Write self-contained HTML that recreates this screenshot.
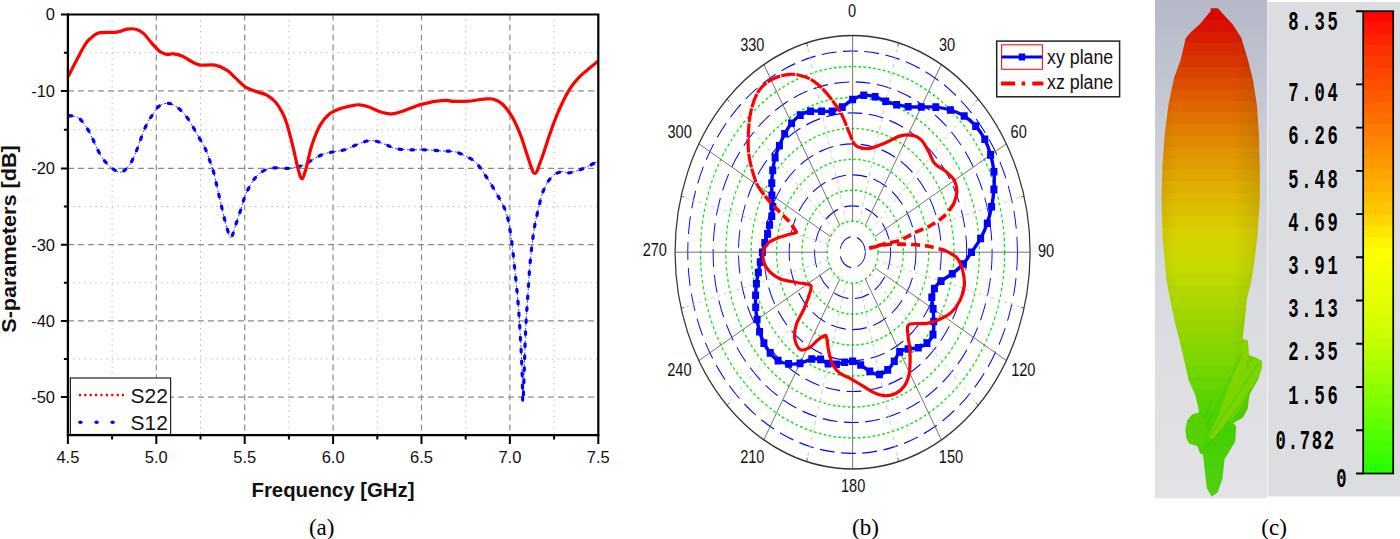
<!DOCTYPE html>
<html><head><meta charset="utf-8"><title>Figure</title><style>
html,body{margin:0;padding:0;background:#fff;}
body{width:1400px;height:539px;overflow:hidden;}
svg{display:block;}
.mn{stroke:#b4b4b4;stroke-width:1;stroke-dasharray:1.3 4.2;}
.mj{stroke:#8a8a8a;stroke-width:1.2;stroke-dasharray:6 4;}
text{font-family:"Liberation Sans",sans-serif;fill:#111;}
.tl{font-size:16.5px;}
.al{font-size:20.4px;font-weight:bold;}
.lg{font-size:21px;}
.cap{font-family:"Liberation Serif",serif;font-size:23px;fill:#000;}
.rb{fill:none;stroke:#0000ff;stroke-width:1.15;stroke-dasharray:18 8;}
.rg{fill:none;stroke:#00e600;stroke-width:1.5;stroke-dasharray:3 3;}
.r30{stroke:#666;stroke-width:1;}
.r10{stroke:#c4c4c4;stroke-width:1;stroke-dasharray:4 4;}
.pl{font-size:18px;}
.pg{font-size:20px;}
.cb{font-family:"Liberation Mono",monospace;font-weight:bold;font-size:20px;fill:#000;}
</style></head><body>
<svg width="1400" height="539" viewBox="0 0 1400 539">
<rect width="1400" height="539" fill="#fff"/>
<line x1="112.1" y1="14.5" x2="112.1" y2="435.1" class="mn"/>
<line x1="200.5" y1="14.5" x2="200.5" y2="435.1" class="mn"/>
<line x1="288.9" y1="14.5" x2="288.9" y2="435.1" class="mn"/>
<line x1="377.3" y1="14.5" x2="377.3" y2="435.1" class="mn"/>
<line x1="465.7" y1="14.5" x2="465.7" y2="435.1" class="mn"/>
<line x1="554.1" y1="14.5" x2="554.1" y2="435.1" class="mn"/>
<line x1="67.9" y1="52.7" x2="598.3" y2="52.7" class="mn"/>
<line x1="67.9" y1="129.7" x2="598.3" y2="129.7" class="mn"/>
<line x1="67.9" y1="206.6" x2="598.3" y2="206.6" class="mn"/>
<line x1="67.9" y1="282.8" x2="598.3" y2="282.8" class="mn"/>
<line x1="67.9" y1="359" x2="598.3" y2="359" class="mn"/>
<line x1="156.3" y1="14.5" x2="156.3" y2="435.1" class="mj"/>
<line x1="244.7" y1="14.5" x2="244.7" y2="435.1" class="mj"/>
<line x1="333.1" y1="14.5" x2="333.1" y2="435.1" class="mj"/>
<line x1="421.5" y1="14.5" x2="421.5" y2="435.1" class="mj"/>
<line x1="509.9" y1="14.5" x2="509.9" y2="435.1" class="mj"/>
<line x1="67.9" y1="90.9" x2="598.3" y2="90.9" class="mj"/>
<line x1="67.9" y1="168.4" x2="598.3" y2="168.4" class="mj"/>
<line x1="67.9" y1="244.7" x2="598.3" y2="244.7" class="mj"/>
<line x1="67.9" y1="320.9" x2="598.3" y2="320.9" class="mj"/>
<line x1="67.9" y1="397.1" x2="598.3" y2="397.1" class="mj"/>
<path d="M69.2 115.6C70.8 116 75.7 115.9 78.5 117.8C81.3 119.7 83.9 123.7 86 126.7C88.1 129.7 89.6 132.5 91.2 135.6C92.8 138.7 93.8 141.6 95.6 145.3C97.4 149 99.7 154.2 102.3 157.9C104.9 161.6 108.1 165.1 111.2 167.5C114.3 169.9 117.9 172.7 121 172.2C124.1 171.7 127.2 167.8 129.7 164.5C132.1 161.2 134 156.6 135.7 152.7C137.4 148.8 138.5 145 140.1 140.8C141.7 136.6 143.6 131.2 145.3 127.4C147 123.6 148.2 121.3 150.5 117.8C152.8 114.3 155.8 108.7 158.9 106.3C162 103.9 165.8 102.9 169.3 103.4C172.8 103.9 176.5 106.6 179.7 109.3C182.9 112 185.4 115 188.6 119.7C191.8 124.4 196.3 132.8 199 137.5C201.7 142.2 203.3 144.2 205 147.9C206.7 151.6 207.9 155.6 209.4 159.8C210.9 164 212.4 167.8 213.9 173.2C215.4 178.6 216.8 186.1 218.3 192.5C219.8 198.9 221.4 206 222.8 211.8C224.2 217.6 225.4 223.2 226.8 227.5C228.2 231.8 229.4 238.2 231 237.6C232.6 236.9 234.5 228.1 236.1 223.6C237.7 219.1 238.9 215.5 240.6 210.3C242.3 205.1 244 197.9 246.5 192.5C249 187.1 252.2 181.4 255.4 177.6C258.6 173.8 262.2 171.2 265.8 169.6C269.4 168 273.2 168 277 167.8C280.8 167.6 284.2 168.8 288.6 168.3C293 167.9 299.4 166.6 303.4 165.1C307.4 163.6 309.3 161.4 312.7 159.6C316.1 157.8 320.1 155.3 323.8 154C327.5 152.7 331.2 152.4 334.9 151.6C338.6 150.8 342.1 150.7 346.1 149.4C350.1 148.1 354.7 145.3 359 143.8C363.3 142.3 367.4 140.4 371.7 140.5C376 140.6 381.1 143 385 144.3C388.9 145.6 391.1 147.6 395 148.5C398.9 149.4 403.4 149.6 408.4 149.8C413.4 150 419.6 149.6 425.2 149.8C430.8 150 436.9 150.7 441.9 151C446.9 151.3 451 150.8 455.2 151.8C459.4 152.8 463.4 155 466.9 156.8C470.4 158.6 473.2 159.8 476.1 162.7C479 165.6 481.1 169 484.5 174.1C487.9 179.2 492.9 187 496.5 193.4C500.1 199.8 503.8 205.5 506.2 212.7C508.6 219.9 509.6 227.2 511 236.8C512.5 246.5 513.7 259.3 514.9 270.6C516.1 281.9 517.2 292.3 518.2 304.4C519.2 316.5 520.1 331.8 520.7 343C521.4 354.2 521.7 362.3 522.1 371.9C522.5 381.5 522.5 407.2 523.1 400.8C523.7 394.4 524.7 351 525.5 333.3C526.3 315.6 527.1 306.8 527.9 294.7C528.7 282.6 529.3 271.4 530.3 261C531.3 250.6 532.5 240.1 533.7 232C534.9 223.9 535.9 219.5 537.5 212.7C539.1 205.9 540.9 197 543.3 191C545.7 185 548.9 179.7 552 176.5C555.1 173.3 558.9 172.3 561.7 171.7C564.6 171.1 565.6 173.3 569.1 172.8C572.6 172.3 578.1 170.6 583 168.6C587.9 166.6 595.8 162.3 598.3 161.1" fill="none" stroke="#0000ff" stroke-width="1" stroke-dasharray="2 2" opacity="0.8"/>
<path d="M69.2 115.6C70.8 116 75.7 115.9 78.5 117.8C81.3 119.7 83.9 123.7 86 126.7C88.1 129.7 89.6 132.5 91.2 135.6C92.8 138.7 93.8 141.6 95.6 145.3C97.4 149 99.7 154.2 102.3 157.9C104.9 161.6 108.1 165.1 111.2 167.5C114.3 169.9 117.9 172.7 121 172.2C124.1 171.7 127.2 167.8 129.7 164.5C132.1 161.2 134 156.6 135.7 152.7C137.4 148.8 138.5 145 140.1 140.8C141.7 136.6 143.6 131.2 145.3 127.4C147 123.6 148.2 121.3 150.5 117.8C152.8 114.3 155.8 108.7 158.9 106.3C162 103.9 165.8 102.9 169.3 103.4C172.8 103.9 176.5 106.6 179.7 109.3C182.9 112 185.4 115 188.6 119.7C191.8 124.4 196.3 132.8 199 137.5C201.7 142.2 203.3 144.2 205 147.9C206.7 151.6 207.9 155.6 209.4 159.8C210.9 164 212.4 167.8 213.9 173.2C215.4 178.6 216.8 186.1 218.3 192.5C219.8 198.9 221.4 206 222.8 211.8C224.2 217.6 225.4 223.2 226.8 227.5C228.2 231.8 229.4 238.2 231 237.6C232.6 236.9 234.5 228.1 236.1 223.6C237.7 219.1 238.9 215.5 240.6 210.3C242.3 205.1 244 197.9 246.5 192.5C249 187.1 252.2 181.4 255.4 177.6C258.6 173.8 262.2 171.2 265.8 169.6C269.4 168 273.2 168 277 167.8C280.8 167.6 284.2 168.8 288.6 168.3C293 167.9 299.4 166.6 303.4 165.1C307.4 163.6 309.3 161.4 312.7 159.6C316.1 157.8 320.1 155.3 323.8 154C327.5 152.7 331.2 152.4 334.9 151.6C338.6 150.8 342.1 150.7 346.1 149.4C350.1 148.1 354.7 145.3 359 143.8C363.3 142.3 367.4 140.4 371.7 140.5C376 140.6 381.1 143 385 144.3C388.9 145.6 391.1 147.6 395 148.5C398.9 149.4 403.4 149.6 408.4 149.8C413.4 150 419.6 149.6 425.2 149.8C430.8 150 436.9 150.7 441.9 151C446.9 151.3 451 150.8 455.2 151.8C459.4 152.8 463.4 155 466.9 156.8C470.4 158.6 473.2 159.8 476.1 162.7C479 165.6 481.1 169 484.5 174.1C487.9 179.2 492.9 187 496.5 193.4C500.1 199.8 503.8 205.5 506.2 212.7C508.6 219.9 509.6 227.2 511 236.8C512.5 246.5 513.7 259.3 514.9 270.6C516.1 281.9 517.2 292.3 518.2 304.4C519.2 316.5 520.1 331.8 520.7 343C521.4 354.2 521.7 362.3 522.1 371.9C522.5 381.5 522.5 407.2 523.1 400.8C523.7 394.4 524.7 351 525.5 333.3C526.3 315.6 527.1 306.8 527.9 294.7C528.7 282.6 529.3 271.4 530.3 261C531.3 250.6 532.5 240.1 533.7 232C534.9 223.9 535.9 219.5 537.5 212.7C539.1 205.9 540.9 197 543.3 191C545.7 185 548.9 179.7 552 176.5C555.1 173.3 558.9 172.3 561.7 171.7C564.6 171.1 565.6 173.3 569.1 172.8C572.6 172.3 578.1 170.6 583 168.6C587.9 166.6 595.8 162.3 598.3 161.1" fill="none" stroke="#0000ff" stroke-width="3.2" stroke-linecap="round" stroke-dasharray="2.6 9.4"/>
<path d="M68 76.8C69.5 74 73.7 65.7 76.7 60.1C79.7 54.5 83.1 47.4 85.9 43.4C88.7 39.4 91 37.7 93.4 35.9C95.8 34.1 96.2 33.2 100.1 32.6C104 32 112.3 32.7 116.8 32.1C121.2 31.5 123.6 29.7 126.8 29.2C130 28.7 133.2 28.5 136 29.2C138.8 29.9 140.8 31 143.5 33.4C146.2 35.8 149.1 40.3 151.9 43.4C154.7 46.5 157.7 50 160.2 51.8C162.7 53.6 164.7 54 166.9 54.3C169.1 54.6 171.1 53.5 173.6 53.8C176.1 54.1 178.9 54.6 182 55.9C185.1 57.2 189 60.3 192 61.8C195 63.3 196.2 64.5 200 65.1C203.8 65.6 210.6 64.3 215.1 65.1C219.6 65.9 223.5 68 226.8 70.1C230.1 72.2 232.1 74.8 235.1 77.6C238.1 80.4 241.5 84.4 245.1 86.8C248.7 89.2 253.2 90.4 256.8 91.8C260.4 93.2 263.7 93.4 266.8 95.1C269.9 96.8 272.7 99 275.2 101.8C277.7 104.6 280 108.2 281.9 111.8C283.8 115.4 285 118.1 286.7 123.4C288.4 128.7 290.4 136.4 292.3 143.8C294.2 151.2 296.2 162.1 297.8 167.9C299.4 173.7 300.5 178.7 301.9 178.7C303.3 178.7 304.6 173.4 306.2 167.9C307.8 162.4 309.4 152.8 311.7 145.7C314 138.6 317.2 130.6 320.1 125.3C323.1 120 326 116.9 329.4 114.1C332.8 111.3 336.8 110 340.5 108.6C344.2 107.2 348.5 106.4 351.6 105.8C354.7 105.2 356.2 104.6 359 104.8C361.8 105 364.9 105.5 368.4 106.7C371.9 107.9 376.1 110.5 380 111.7C383.9 112.9 387.8 114 391.7 113.9C395.6 113.8 399.5 112.2 403.4 110.9C407.3 109.7 411.8 107.6 415.1 106.4C418.5 105.2 420.1 104.7 423.5 103.9C426.9 103.1 431.3 102 435.2 101.4C439.1 100.8 443.8 100.4 446.9 100.4C450 100.4 450 101.3 453.6 101.4C457.2 101.5 464.7 101.4 468.6 101.2C472.5 101 473.9 100.4 477 100C480.1 99.6 484.2 99 487 98.9C489.8 98.8 491.1 98.4 493.6 99.2C496.2 100 499.2 101.1 502.3 104C505.4 106.9 509 111.5 512 116.6C515 121.7 517.6 127.5 520.4 134.7C523.2 141.9 526.3 153.2 528.7 159.7C531.1 166.2 532.7 173.6 534.8 173.6C536.9 173.6 538.7 166.2 541.2 159.7C543.7 153.2 546.8 142.6 549.6 134.7C552.4 126.8 554.8 119.8 558 112.4C561.2 105 565.4 96.1 569.1 90.1C572.8 84.1 576.7 79.9 580.2 76.2C583.7 72.5 587 70.3 590 67.8C593 65.2 596.9 62 598.3 60.9" fill="none" stroke="#ff0000" stroke-width="3.2" stroke-linejoin="round"/>
<rect x="70.4" y="378" width="100.2" height="56.5" fill="#fff" stroke="#222" stroke-width="1.2"/>
<line x1="78.8" y1="395" x2="124" y2="395" stroke="#ff0000" stroke-width="2.4" stroke-dasharray="2.2 3.2"/>
<ellipse cx="80.4" cy="422.2" rx="2.2" ry="1.8" fill="#0000ff"/>
<ellipse cx="96.6" cy="422.2" rx="2.2" ry="1.8" fill="#0000ff"/>
<ellipse cx="112.6" cy="422.2" rx="2.2" ry="1.8" fill="#0000ff"/>
<text x="130.6" y="402.5" class="lg">S22</text>
<text x="130.6" y="429.7" class="lg">S12</text>
<path d="M67.9 14.5 H598.3 V435.1" fill="none" stroke="#000" stroke-width="2.2"/>
<path d="M67.9 13.4 V435.1 H599.4" fill="none" stroke="#000" stroke-width="2.3"/>
<path d="M60.9 14.5H67.9M60.9 90.9H67.9M60.9 168.4H67.9M60.9 244.7H67.9M60.9 320.9H67.9M60.9 397.1H67.9M63.9 52.7H67.9M63.9 129.7H67.9M63.9 206.6H67.9M63.9 282.8H67.9M63.9 359H67.9M67.9 435.1V444.1M156.3 435.1V444.1M244.7 435.1V444.1M333.1 435.1V444.1M421.5 435.1V444.1M509.9 435.1V444.1M598.3 435.1V444.1M112.1 435.1V439.6M200.5 435.1V439.6M288.9 435.1V439.6M377.3 435.1V439.6M465.7 435.1V439.6M554.1 435.1V439.6" stroke="#000" stroke-width="2"/>
<text x="55" y="20.4" class="tl" text-anchor="end">0</text>
<text x="55" y="96.8" class="tl" text-anchor="end">-10</text>
<text x="55" y="174.3" class="tl" text-anchor="end">-20</text>
<text x="55" y="250.6" class="tl" text-anchor="end">-30</text>
<text x="55" y="326.8" class="tl" text-anchor="end">-40</text>
<text x="55" y="402.9" class="tl" text-anchor="end">-50</text>
<text x="67.9" y="462.5" class="tl" text-anchor="middle">4.5</text>
<text x="156.3" y="462.5" class="tl" text-anchor="middle">5.0</text>
<text x="244.7" y="462.5" class="tl" text-anchor="middle">5.5</text>
<text x="333.1" y="462.5" class="tl" text-anchor="middle">6.0</text>
<text x="421.5" y="462.5" class="tl" text-anchor="middle">6.5</text>
<text x="509.9" y="462.5" class="tl" text-anchor="middle">7.0</text>
<text x="598.3" y="462.5" class="tl" text-anchor="middle">7.5</text>
<text x="333" y="497.4" class="al" text-anchor="middle">Frequency [GHz]</text>
<text transform="translate(16.3 239) rotate(-90) scale(1.083 1)" class="al" style="font-size:20px" text-anchor="middle">S-parameters [dB]</text>
<text x="321.7" y="534.6" class="cap" text-anchor="middle">(a)</text>
<g transform="translate(852.6 252.2) scale(0.8191 1)"><circle r="15.5" class="rb"/><circle r="31" class="rg"/><circle r="46.4" class="rb"/><circle r="61.9" class="rg"/><circle r="77.4" class="rb"/><circle r="92.9" class="rg"/><circle r="108.3" class="rb"/><circle r="123.8" class="rg"/><circle r="139.3" class="rb"/><circle r="154.8" class="rg"/><circle r="170.3" class="rb"/><circle r="185.7" class="rg"/><circle r="201.2" class="rb"/><line x1="0" y1="-31" x2="0" y2="-216.7" class="r30"/><line x1="8" y1="-29.9" x2="56.1" y2="-209.3" class="r10"/><line x1="55.1" y1="-205.5" x2="56.1" y2="-209.3" class="r30"/><line x1="15.5" y1="-26.8" x2="108.3" y2="-187.7" class="r30"/><line x1="21.9" y1="-21.9" x2="153.2" y2="-153.2" class="r10"/><line x1="150.4" y1="-150.4" x2="153.2" y2="-153.2" class="r30"/><line x1="26.8" y1="-15.5" x2="187.7" y2="-108.4" class="r30"/><line x1="29.9" y1="-8" x2="209.3" y2="-56.1" class="r10"/><line x1="205.5" y1="-55.1" x2="209.3" y2="-56.1" class="r30"/><line x1="31" y1="-0" x2="216.7" y2="-0" class="r30"/><line x1="29.9" y1="8" x2="209.3" y2="56.1" class="r10"/><line x1="205.5" y1="55.1" x2="209.3" y2="56.1" class="r30"/><line x1="26.8" y1="15.5" x2="187.7" y2="108.3" class="r30"/><line x1="21.9" y1="21.9" x2="153.2" y2="153.2" class="r10"/><line x1="150.4" y1="150.4" x2="153.2" y2="153.2" class="r30"/><line x1="15.5" y1="26.8" x2="108.3" y2="187.7" class="r30"/><line x1="8" y1="29.9" x2="56.1" y2="209.3" class="r10"/><line x1="55.1" y1="205.5" x2="56.1" y2="209.3" class="r30"/><line x1="0" y1="31" x2="0" y2="216.7" class="r30"/><line x1="-8" y1="29.9" x2="-56.1" y2="209.3" class="r10"/><line x1="-55.1" y1="205.5" x2="-56.1" y2="209.3" class="r30"/><line x1="-15.5" y1="26.8" x2="-108.4" y2="187.7" class="r30"/><line x1="-21.9" y1="21.9" x2="-153.2" y2="153.2" class="r10"/><line x1="-150.4" y1="150.4" x2="-153.2" y2="153.2" class="r30"/><line x1="-26.8" y1="15.5" x2="-187.7" y2="108.4" class="r30"/><line x1="-29.9" y1="8" x2="-209.3" y2="56.1" class="r10"/><line x1="-205.5" y1="55.1" x2="-209.3" y2="56.1" class="r30"/><line x1="-31" y1="0" x2="-216.7" y2="0" class="r30"/><line x1="-29.9" y1="-8" x2="-209.3" y2="-56.1" class="r10"/><line x1="-205.5" y1="-55.1" x2="-209.3" y2="-56.1" class="r30"/><line x1="-26.8" y1="-15.5" x2="-187.7" y2="-108.4" class="r30"/><line x1="-21.9" y1="-21.9" x2="-153.2" y2="-153.2" class="r10"/><line x1="-150.4" y1="-150.4" x2="-153.2" y2="-153.2" class="r30"/><line x1="-15.5" y1="-26.8" x2="-108.4" y2="-187.7" class="r30"/><line x1="-8" y1="-29.9" x2="-56.1" y2="-209.3" class="r10"/><line x1="-55.1" y1="-205.5" x2="-56.1" y2="-209.3" class="r30"/><circle r="216.7" fill="none" stroke="#333" stroke-width="1.5"/></g>
<path d="M852.6 99.5C856.2 97.6 860.1 95.7 863.8 95.2C867.6 94.8 871.4 95.7 875.1 96.7C878.7 97.7 882.1 99.9 885.7 101.2C889.3 102.6 892.9 103.7 896.6 104.7C900.3 105.6 904 106.4 908.1 106.8C912.2 107.2 916.6 107 921.3 107C925.9 107.1 931 106.6 935.8 107.1C940.7 107.6 945.6 108.5 950.4 110C955.1 111.4 960 113.3 964.2 116C968.4 118.6 972.3 122.2 975.7 126.1C979.2 129.9 982.3 134.4 984.8 139.2C987.2 144 989.1 149.5 990.6 154.9C992.1 160.3 993.4 166 993.9 171.8C994.5 177.5 994.3 183.6 993.9 189.4C993.6 195.2 992.7 201.1 991.6 206.7C990.5 212.4 989.1 217.9 987.3 223.2C985.4 228.5 983.3 233.7 980.6 238.5C978 243.4 974.4 248 971.5 252.2C968.6 256.4 966.4 260.4 963.2 264C960 267.6 956 270.8 952.3 273.7C948.6 276.5 944.1 278.7 941.1 281.1C938.1 283.6 935.9 285.8 934.4 288.5C932.8 291.2 932 293.9 931.8 297.3C931.6 300.7 932.8 304.9 933.1 308.9C933.4 313 933.7 317.2 933.7 321.5C933.7 325.8 934.1 331 933 334.6C931.9 338.2 929.5 340.9 927 343.1C924.6 345.3 921.4 346.8 918.3 347.7C915.1 348.7 911.2 348.3 908.1 349C905 349.6 902 349.8 899.7 351.9C897.4 353.9 896.3 358.3 894.3 361.3C892.3 364.3 890.2 367.7 887.7 369.9C885.2 372.1 882.4 374.2 879.4 374.5C876.5 374.7 872.9 373 869.8 371.4C866.7 369.8 863.6 366.7 860.7 365C857.8 363.3 855.3 361.8 852.6 361.3C849.9 360.9 847.4 361.8 844.7 362.3C842 362.8 839.2 364.1 836.4 364.3C833.6 364.6 830.8 364.5 828.1 363.6C825.5 362.8 823.4 360.2 820.6 359.4C817.9 358.7 815.2 358.4 811.8 359C808.4 359.7 803.9 362.6 800 363.4C796.1 364.2 792.2 364.3 788.6 363.9C784.9 363.4 781.2 362.4 778.1 360.6C775 358.8 772.5 355.8 770.2 352.9C767.8 349.9 765.7 346.6 763.9 343.1C762.1 339.5 760.7 335.6 759.6 331.7C758.4 327.8 757.7 323.6 757.1 319.5C756.5 315.5 756 311.4 755.7 307.3C755.5 303.3 755.5 299.3 755.6 295.3C755.7 291.4 756 287.5 756.4 283.7C756.9 279.9 757.7 276.1 758.3 272.5C758.9 268.9 759.6 265.4 760.3 262.1C761 258.7 761.7 255.4 762.4 252.2C763.2 249 763.9 245.9 764.8 242.8C765.6 239.8 766.8 236.9 767.6 233.9C768.4 230.9 768.9 228 769.6 225C770.3 222.1 771.3 219.4 771.8 216.3C772.4 213.3 772.8 210.3 772.8 206.8C772.8 203.3 772.1 199.3 771.9 195.3C771.7 191.4 771.7 187.3 771.8 183.1C771.9 179 772.2 174.6 772.7 170.4C773.3 166.1 774 161.7 775.1 157.6C776.2 153.5 777.8 149.7 779.4 145.7C781 141.7 782.6 137.5 784.7 133.7C786.7 130 789 126.4 791.6 123.2C794.2 120.1 797.1 117.1 800.2 115.1C803.4 113 807 111.8 810.6 111.2C814.1 110.5 818 111.2 821.6 111.2C825.3 111.2 828.8 111.9 832.2 111.2C835.7 110.5 838.8 109 842.2 107.1C845.6 105.2 849 101.5 852.6 99.5Z" fill="none" stroke="#0000ff" stroke-width="3.4" stroke-linejoin="round"/>
<path d="M849.1 95.7h7v7.6h-7zM860.3 91.4h7v7.6h-7zM871.6 92.9h7v7.6h-7zM882.2 97.4h7v7.6h-7zM893.1 100.9h7v7.6h-7zM904.6 103h7v7.6h-7zM917.8 103.2h7v7.6h-7zM932.3 103.3h7v7.6h-7zM946.9 106.2h7v7.6h-7zM960.7 112.2h7v7.6h-7zM972.2 122.3h7v7.6h-7zM981.3 135.4h7v7.6h-7zM987.1 151.1h7v7.6h-7zM990.4 168h7v7.6h-7zM990.4 185.6h7v7.6h-7zM988.1 202.9h7v7.6h-7zM983.8 219.4h7v7.6h-7zM977.1 234.7h7v7.6h-7zM968 248.4h7v7.6h-7zM959.7 260.2h7v7.6h-7zM948.8 269.9h7v7.6h-7zM937.6 277.3h7v7.6h-7zM930.9 284.7h7v7.6h-7zM928.3 293.5h7v7.6h-7zM929.6 305.1h7v7.6h-7zM930.2 317.7h7v7.6h-7zM929.5 330.8h7v7.6h-7zM923.5 339.3h7v7.6h-7zM914.8 343.9h7v7.6h-7zM904.6 345.2h7v7.6h-7zM896.2 348.1h7v7.6h-7zM890.8 357.5h7v7.6h-7zM884.2 366.1h7v7.6h-7zM875.9 370.7h7v7.6h-7zM866.3 367.6h7v7.6h-7zM857.2 361.2h7v7.6h-7zM849.1 357.5h7v7.6h-7zM841.2 358.5h7v7.6h-7zM832.9 360.5h7v7.6h-7zM824.6 359.8h7v7.6h-7zM817.1 355.6h7v7.6h-7zM808.3 355.2h7v7.6h-7zM796.5 359.6h7v7.6h-7zM785.1 360.1h7v7.6h-7zM774.6 356.8h7v7.6h-7zM766.7 349.1h7v7.6h-7zM760.4 339.3h7v7.6h-7zM756.1 327.9h7v7.6h-7zM753.6 315.7h7v7.6h-7zM752.2 303.5h7v7.6h-7zM752.1 291.5h7v7.6h-7zM752.9 279.9h7v7.6h-7zM754.8 268.7h7v7.6h-7zM756.8 258.3h7v7.6h-7zM758.9 248.4h7v7.6h-7zM761.3 239h7v7.6h-7zM764.1 230.1h7v7.6h-7zM766.1 221.2h7v7.6h-7zM768.3 212.5h7v7.6h-7zM769.3 203h7v7.6h-7zM768.4 191.5h7v7.6h-7zM768.3 179.3h7v7.6h-7zM769.2 166.6h7v7.6h-7zM771.6 153.8h7v7.6h-7zM775.9 141.9h7v7.6h-7zM781.2 129.9h7v7.6h-7zM788.1 119.4h7v7.6h-7zM796.7 111.3h7v7.6h-7zM807.1 107.4h7v7.6h-7zM818.1 107.4h7v7.6h-7zM828.7 107.4h7v7.6h-7zM838.7 103.3h7v7.6h-7z" fill="#0000ff"/>
<path d="M862.5 148.3C863.9 148.3 866.9 149 870.8 148.1C874.6 147.2 880.6 144.7 885.6 142.7C890.6 140.7 896 137.1 900.5 135.9C905 134.7 908.8 134.7 912.3 135.3C915.8 136 918.5 137.1 921.2 139.8C923.9 142.5 926.5 147.7 928.7 151.6C930.9 155.5 931.9 160.3 934.6 163.5C937.3 166.7 941.8 168.2 945 170.9C948.2 173.6 951.9 176.3 953.9 179.8C955.9 183.3 956.9 187.7 956.9 191.7C956.9 195.7 954.4 201.6 953.9 203.6" fill="none" stroke="#ff0000" stroke-width="3.2" stroke-linejoin="round" stroke-linecap="round"/>
<path d="M953.9 203.6C952.4 205.6 949 211.7 945 215.4C941 219.1 935.1 223 930.1 225.8C925.1 228.7 919.9 230.1 915 232.5C910.1 234.9 905.9 238.1 900.5 240.1C895.1 242.1 887.9 243.2 882.7 244.5C877.5 245.8 871.5 247.5 869.3 248.1" fill="none" stroke="#ff0000" stroke-width="3.6" stroke-linejoin="round" stroke-linecap="butt" stroke-dasharray="9 4.5"/>
<path d="M869.3 248.1C872.5 247.5 881.9 245.1 888.6 244.5C895.3 243.9 903 244.2 909.4 244.5C915.8 244.8 921.3 245 927.2 246C933.1 247 942 249.8 945 250.5" fill="none" stroke="#ff0000" stroke-width="3.6" stroke-linejoin="round" stroke-linecap="butt" stroke-dasharray="9 5"/>
<path d="M945 250.5C947 251.7 953.9 254.4 956.9 257.9C959.9 261.3 961.6 266.5 962.8 271.2C964 275.9 964.8 281.2 964.3 286.1C963.8 291.1 962 296.4 959.8 300.9C957.6 305.3 954.5 309.6 950.9 312.8C947.3 316 942 318.2 938 320C934 321.8 931.6 322.6 926.8 323.4C922 324.1 912.1 322.6 909 324.5C905.9 326.4 907.8 330.6 907.9 334.5C908 338.4 909.3 343.4 909.7 347.9C910.1 352.3 910.2 356.8 910.1 361.2C910 365.6 909.9 370.5 909 374.6C908.1 378.7 906.8 382.6 904.6 385.7C902.4 388.8 899 391.8 895.7 393.5C892.4 395.2 888.3 395.9 884.6 395.7C880.9 395.5 877.1 394.1 873.4 392.4C869.7 390.7 866 387.9 862.3 385.7C858.6 383.5 854.9 381.1 851.2 379C847.5 376.9 843.1 375.6 840.1 373.4C837.1 371.2 835.3 369.2 833.4 365.7C831.5 362.2 830 356.9 828.9 352.3C827.8 347.7 827.4 340.6 826.7 337.8C826 335 826 335.2 824.5 335.6C823 336 820.4 338.1 817.8 340.1C815.2 342.2 811.9 346.3 808.9 347.9C805.9 349.5 802.4 351.1 800 349.5C797.6 347.9 795.3 342.5 794.7 338.3C794.1 334.1 795 328.8 796.5 324.1C798 319.4 801.5 314.7 803.5 310C805.5 305.3 807.6 300 808.8 295.9C810 291.8 812.6 287.5 810.6 285.3C808.6 283.1 801.8 283.7 796.5 282.5C791.2 281.3 783.8 280.7 778.8 278.2C773.8 275.7 769.1 271.8 766.5 267.7C763.9 263.6 762.7 257.6 763 253.5C763.3 249.4 765.6 245.7 768.2 243C770.8 240.3 774.1 239.4 778.8 237.6C783.5 235.8 793.5 233.3 796.5 232.4" fill="none" stroke="#ff0000" stroke-width="3.2" stroke-linejoin="round" stroke-linecap="round"/>
<path d="M796.5 232.4C795.3 230.6 792.9 225.9 789.4 221.8C785.9 217.7 779.5 212.1 775.3 207.6C771.1 203.1 765.9 197.1 764 195" fill="none" stroke="#ff0000" stroke-width="3.6" stroke-linejoin="round" stroke-linecap="butt" stroke-dasharray="9 4"/>
<path d="M764 195C762.7 192.8 758.4 188.2 756 182.1C753.6 176 750.8 166.1 749.5 158.7C748.2 151.3 748 145.7 748.2 137.9C748.4 130.1 749.1 119.7 750.8 111.9C752.5 104.1 755.1 96.6 758.6 91.2C762.1 85.8 766.4 82.3 771.6 79.5C776.8 76.7 784.1 74.7 789.7 74.3C795.3 73.9 800.5 75.2 805.3 76.9C810.1 78.6 814 81 818.3 84.7C822.6 88.4 827.4 94 831.3 99C835.2 104 838.9 109.3 841.7 114.5C844.5 119.7 846 125.1 848.2 130.1C850.4 135.1 852.3 141.4 854.7 144.4C857.1 147.4 861.2 147.7 862.5 148.3" fill="none" stroke="#ff0000" stroke-width="3.2" stroke-linejoin="round" stroke-linecap="butt" stroke-dasharray="14 1.2"/>
<text transform="translate(852 16.8) scale(0.81 1)" class="pl" text-anchor="middle">0</text>
<text transform="translate(947 51.4) scale(0.81 1)" class="pl" text-anchor="middle">30</text>
<text transform="translate(1018.7 138.1) scale(0.81 1)" class="pl" text-anchor="middle">60</text>
<text transform="translate(1046 256.7) scale(0.81 1)" class="pl" text-anchor="middle">90</text>
<text transform="translate(1023.3 375.7) scale(0.81 1)" class="pl" text-anchor="middle">120</text>
<text transform="translate(951 462.7) scale(0.81 1)" class="pl" text-anchor="middle">150</text>
<text transform="translate(853.1 492.4) scale(0.81 1)" class="pl" text-anchor="middle">180</text>
<text transform="translate(752.3 462.7) scale(0.81 1)" class="pl" text-anchor="middle">210</text>
<text transform="translate(679.4 375.7) scale(0.81 1)" class="pl" text-anchor="middle">240</text>
<text transform="translate(654.8 256.3) scale(0.81 1)" class="pl" text-anchor="middle">270</text>
<text transform="translate(679.6 137.7) scale(0.81 1)" class="pl" text-anchor="middle">300</text>
<text transform="translate(752.3 50.8) scale(0.81 1)" class="pl" text-anchor="middle">330</text>
<rect x="996.7" y="41.1" width="122.9" height="55.7" fill="#fff" stroke="#222" stroke-width="1.5"/>
<rect x="1001.6" y="44.8" width="40.8" height="24.5" fill="none" stroke="#ff0000" stroke-width="1"/>
<line x1="1001.6" y1="57" x2="1042.4" y2="57" stroke="#0000ff" stroke-width="3.2"/>
<rect x="1018.8" y="53.5" width="6.4" height="7" fill="#0000ff"/>
<path d="M1001.1 83.4H1015.2M1021.6 83.4H1025.2M1032.3 83.4H1043.4" stroke="#ff0000" stroke-width="4"/>
<text transform="translate(1047 63.5) scale(0.89 1)" class="pg">xy plane</text>
<text transform="translate(1047 89) scale(0.89 1)" class="pg">xz plane</text>
<text x="865.5" y="534.6" class="cap" text-anchor="middle">(b)</text>
<defs><linearGradient id="bgc" x1="0" y1="0" x2="0" y2="1"><stop offset="0" stop-color="#b5b9c8"/><stop offset="0.3" stop-color="#cccfd7"/><stop offset="0.6" stop-color="#dadbe0"/><stop offset="1" stop-color="#e3e3e7"/></linearGradient><linearGradient id="lobe" gradientUnits="userSpaceOnUse" x1="0" y1="9" x2="0" y2="496"><stop offset="0.0000" stop-color="#d80800"/><stop offset="0.0236" stop-color="#d80800"/><stop offset="0.0236" stop-color="#d81100"/><stop offset="0.0472" stop-color="#d81100"/><stop offset="0.0472" stop-color="#d81c00"/><stop offset="0.0708" stop-color="#d81c00"/><stop offset="0.0708" stop-color="#d82900"/><stop offset="0.0945" stop-color="#d82900"/><stop offset="0.0945" stop-color="#d83500"/><stop offset="0.1181" stop-color="#d83500"/><stop offset="0.1181" stop-color="#da4200"/><stop offset="0.1417" stop-color="#da4200"/><stop offset="0.1417" stop-color="#dd4f00"/><stop offset="0.1653" stop-color="#dd4f00"/><stop offset="0.1653" stop-color="#de5b00"/><stop offset="0.1889" stop-color="#de5b00"/><stop offset="0.1889" stop-color="#df6700"/><stop offset="0.2125" stop-color="#df6700"/><stop offset="0.2125" stop-color="#e07200"/><stop offset="0.2361" stop-color="#e07200"/><stop offset="0.2361" stop-color="#e07e00"/><stop offset="0.2598" stop-color="#e07e00"/><stop offset="0.2598" stop-color="#e08900"/><stop offset="0.2834" stop-color="#e08900"/><stop offset="0.2834" stop-color="#e09400"/><stop offset="0.3070" stop-color="#e09400"/><stop offset="0.3070" stop-color="#e09c00"/><stop offset="0.3306" stop-color="#e09c00"/><stop offset="0.3306" stop-color="#e0a500"/><stop offset="0.3542" stop-color="#e0a500"/><stop offset="0.3542" stop-color="#dfae00"/><stop offset="0.3778" stop-color="#dfae00"/><stop offset="0.3778" stop-color="#ddb700"/><stop offset="0.4014" stop-color="#ddb700"/><stop offset="0.4014" stop-color="#dbc000"/><stop offset="0.4251" stop-color="#dbc000"/><stop offset="0.4251" stop-color="#dac800"/><stop offset="0.4487" stop-color="#dac800"/><stop offset="0.4487" stop-color="#d8d100"/><stop offset="0.4723" stop-color="#d8d100"/><stop offset="0.4723" stop-color="#d3d500"/><stop offset="0.4959" stop-color="#d3d500"/><stop offset="0.4959" stop-color="#cdd800"/><stop offset="0.5195" stop-color="#cdd800"/><stop offset="0.5195" stop-color="#c6da00"/><stop offset="0.5431" stop-color="#c6da00"/><stop offset="0.5431" stop-color="#bdd900"/><stop offset="0.5667" stop-color="#bdd900"/><stop offset="0.5667" stop-color="#b3d800"/><stop offset="0.5903" stop-color="#b3d800"/><stop offset="0.5903" stop-color="#aad700"/><stop offset="0.6140" stop-color="#aad700"/><stop offset="0.6140" stop-color="#a1d600"/><stop offset="0.6376" stop-color="#a1d600"/><stop offset="0.6376" stop-color="#98d400"/><stop offset="0.6612" stop-color="#98d400"/><stop offset="0.6612" stop-color="#8fd500"/><stop offset="0.6848" stop-color="#8fd500"/><stop offset="0.6848" stop-color="#85d500"/><stop offset="0.7084" stop-color="#85d500"/><stop offset="0.7084" stop-color="#7cd600"/><stop offset="0.7320" stop-color="#7cd600"/><stop offset="0.7320" stop-color="#72d500"/><stop offset="0.7556" stop-color="#72d500"/><stop offset="0.7556" stop-color="#67d500"/><stop offset="0.7793" stop-color="#67d500"/><stop offset="0.7793" stop-color="#5dd400"/><stop offset="0.8029" stop-color="#5dd400"/><stop offset="0.8029" stop-color="#55d300"/><stop offset="0.8265" stop-color="#55d300"/><stop offset="0.8265" stop-color="#4dd100"/><stop offset="0.8501" stop-color="#4dd100"/><stop offset="0.8501" stop-color="#45d000"/><stop offset="0.8737" stop-color="#45d000"/><stop offset="0.8737" stop-color="#46d002"/><stop offset="0.8973" stop-color="#46d002"/><stop offset="0.8973" stop-color="#48d005"/><stop offset="0.9209" stop-color="#48d005"/><stop offset="0.9209" stop-color="#4ad008"/><stop offset="0.9446" stop-color="#4ad008"/><stop offset="0.9446" stop-color="#4cd00b"/><stop offset="0.9682" stop-color="#4cd00b"/><stop offset="0.9682" stop-color="#4ed00e"/><stop offset="0.9918" stop-color="#4ed00e"/><stop offset="0.9918" stop-color="#50d010"/><stop offset="1.0000" stop-color="#50d010"/></linearGradient><linearGradient id="shade" x1="0" y1="0" x2="1" y2="0"><stop offset="0" stop-color="#000" stop-opacity="0.06"/><stop offset="0.15" stop-color="#000" stop-opacity="0"/><stop offset="0.7" stop-color="#000" stop-opacity="0"/><stop offset="1" stop-color="#000" stop-opacity="0.10"/></linearGradient><linearGradient id="cbar" gradientUnits="userSpaceOnUse" x1="0" y1="11.2" x2="0" y2="473.5"><stop offset="0.0000" stop-color="#ff0700"/><stop offset="0.0244" stop-color="#ff0700"/><stop offset="0.0244" stop-color="#ff1500"/><stop offset="0.0489" stop-color="#ff1500"/><stop offset="0.0489" stop-color="#ff2300"/><stop offset="0.0733" stop-color="#ff2300"/><stop offset="0.0733" stop-color="#ff3100"/><stop offset="0.0978" stop-color="#ff3100"/><stop offset="0.0978" stop-color="#ff3b00"/><stop offset="0.1222" stop-color="#ff3b00"/><stop offset="0.1222" stop-color="#ff4500"/><stop offset="0.1467" stop-color="#ff4500"/><stop offset="0.1467" stop-color="#ff5000"/><stop offset="0.1711" stop-color="#ff5000"/><stop offset="0.1711" stop-color="#ff5a00"/><stop offset="0.1955" stop-color="#ff5a00"/><stop offset="0.1955" stop-color="#ff6500"/><stop offset="0.2200" stop-color="#ff6500"/><stop offset="0.2200" stop-color="#ff7000"/><stop offset="0.2444" stop-color="#ff7000"/><stop offset="0.2444" stop-color="#ff7b00"/><stop offset="0.2689" stop-color="#ff7b00"/><stop offset="0.2689" stop-color="#ff8500"/><stop offset="0.2933" stop-color="#ff8500"/><stop offset="0.2933" stop-color="#ff9000"/><stop offset="0.3178" stop-color="#ff9000"/><stop offset="0.3178" stop-color="#ff9a00"/><stop offset="0.3422" stop-color="#ff9a00"/><stop offset="0.3422" stop-color="#ffa500"/><stop offset="0.3666" stop-color="#ffa500"/><stop offset="0.3666" stop-color="#ffb000"/><stop offset="0.3911" stop-color="#ffb000"/><stop offset="0.3911" stop-color="#ffbc00"/><stop offset="0.4155" stop-color="#ffbc00"/><stop offset="0.4155" stop-color="#ffc700"/><stop offset="0.4400" stop-color="#ffc700"/><stop offset="0.4400" stop-color="#ffd500"/><stop offset="0.4644" stop-color="#ffd500"/><stop offset="0.4644" stop-color="#ffe500"/><stop offset="0.4889" stop-color="#ffe500"/><stop offset="0.4889" stop-color="#fff500"/><stop offset="0.5133" stop-color="#fff500"/><stop offset="0.5133" stop-color="#fdff00"/><stop offset="0.5377" stop-color="#fdff00"/><stop offset="0.5377" stop-color="#f7ff00"/><stop offset="0.5622" stop-color="#f7ff00"/><stop offset="0.5622" stop-color="#f2ff00"/><stop offset="0.5866" stop-color="#f2ff00"/><stop offset="0.5866" stop-color="#ecff00"/><stop offset="0.6111" stop-color="#ecff00"/><stop offset="0.6111" stop-color="#e6ff00"/><stop offset="0.6355" stop-color="#e6ff00"/><stop offset="0.6355" stop-color="#deff00"/><stop offset="0.6600" stop-color="#deff00"/><stop offset="0.6600" stop-color="#d5ff00"/><stop offset="0.6844" stop-color="#d5ff00"/><stop offset="0.6844" stop-color="#ccff00"/><stop offset="0.7088" stop-color="#ccff00"/><stop offset="0.7088" stop-color="#c2ff00"/><stop offset="0.7333" stop-color="#c2ff00"/><stop offset="0.7333" stop-color="#b4ff00"/><stop offset="0.7577" stop-color="#b4ff00"/><stop offset="0.7577" stop-color="#a7ff00"/><stop offset="0.7822" stop-color="#a7ff00"/><stop offset="0.7822" stop-color="#99ff00"/><stop offset="0.8066" stop-color="#99ff00"/><stop offset="0.8066" stop-color="#8bff00"/><stop offset="0.8311" stop-color="#8bff00"/><stop offset="0.8311" stop-color="#7dff00"/><stop offset="0.8555" stop-color="#7dff00"/><stop offset="0.8555" stop-color="#6eff00"/><stop offset="0.8799" stop-color="#6eff00"/><stop offset="0.8799" stop-color="#60ff00"/><stop offset="0.9044" stop-color="#60ff00"/><stop offset="0.9044" stop-color="#52ff00"/><stop offset="0.9288" stop-color="#52ff00"/><stop offset="0.9288" stop-color="#44ff00"/><stop offset="0.9533" stop-color="#44ff00"/><stop offset="0.9533" stop-color="#35ff00"/><stop offset="0.9777" stop-color="#35ff00"/><stop offset="0.9777" stop-color="#28ff00"/><stop offset="1.0000" stop-color="#28ff00"/></linearGradient></defs>
<rect x="1155" y="0" width="112.3" height="498.3" fill="url(#bgc)"/>
<rect x="1268" y="2" width="132" height="494.5" fill="#dcdde1"/>
<path d="M1210.7 8.3 L1217.9 8.3 L1223.5 14.4 L1232.4 24 L1241.3 37.8 L1248 60 L1253 80 L1256.9 105 L1259 135 L1259.8 170 L1259.8 200 L1257.5 235 L1254.5 260 L1251.5 280 L1246.7 300 L1244.7 320 L1242.7 338.8 L1247.8 340.8 L1248.8 355 L1253.9 357 L1262 361 L1262 367 L1258 379.6 L1249.8 393.9 L1248.8 398.9 L1247.8 408.6 L1243 417.4 L1233.2 423.3 L1236.2 426.2 L1235.2 441.8 L1229.3 451.5 L1224.5 459.3 L1222.5 478.8 L1217.6 492.5 L1211.8 496.4 L1206.9 488.6 L1205 473 L1203 454.5 L1200.1 453.5 L1197.2 445.7 L1189.4 443.7 L1186.4 437.9 L1185.5 430.1 L1187.4 420.3 L1192.3 414.5 L1199.1 412.5 L1198.1 406.7 L1195.2 395 L1188.6 380 L1184 360 L1179.4 340 L1174.3 320 L1170.2 300 L1166.5 280 L1164.7 260 L1162.5 235 L1161.5 200 L1162.5 165 L1164.7 135 L1168.6 103.9 L1174 78 L1180.6 60 L1185.6 38.4 L1190 33 L1200 24 L1210.7 11" fill="url(#lobe)"/>
<path d="M1210.7 8.3 L1217.9 8.3 L1223.5 14.4 L1232.4 24 L1241.3 37.8 L1248 60 L1253 80 L1256.9 105 L1259 135 L1259.8 170 L1259.8 200 L1257.5 235 L1254.5 260 L1251.5 280 L1246.7 300 L1244.7 320 L1242.7 338.8 L1247.8 340.8 L1248.8 355 L1253.9 357 L1262 361 L1262 367 L1258 379.6 L1249.8 393.9 L1248.8 398.9 L1247.8 408.6 L1243 417.4 L1233.2 423.3 L1236.2 426.2 L1235.2 441.8 L1229.3 451.5 L1224.5 459.3 L1222.5 478.8 L1217.6 492.5 L1211.8 496.4 L1206.9 488.6 L1205 473 L1203 454.5 L1200.1 453.5 L1197.2 445.7 L1189.4 443.7 L1186.4 437.9 L1185.5 430.1 L1187.4 420.3 L1192.3 414.5 L1199.1 412.5 L1198.1 406.7 L1195.2 395 L1188.6 380 L1184 360 L1179.4 340 L1174.3 320 L1170.2 300 L1166.5 280 L1164.7 260 L1162.5 235 L1161.5 200 L1162.5 165 L1164.7 135 L1168.6 103.9 L1174 78 L1180.6 60 L1185.6 38.4 L1190 33 L1200 24 L1210.7 11" fill="url(#shade)"/>
<path d="M1215 425 L1230 385 L1240 360 L1242.7 338.8 L1247.8 340.8 L1248.8 356 L1244 372 L1225 420" fill="#86d400" opacity="0.9"/>
<path d="M1208 436 L1228 398 L1245 370 L1255 357 L1262 361 L1262 368 L1256 381 L1246 398 L1236 414 L1222 430 L1212 440" fill="#7ad600"/>
<path d="M1210 436L1258 364M1214 440L1252 388M1205 430L1243 352M1207 446L1230 420M1200 428L1212 400" stroke="#3cbc00" stroke-width="1.1" opacity="0.6" fill="none"/>
<path d="M1187.4 420.3 L1192.3 414.5 L1199.1 412.5 L1205 418 L1208 432 L1203 446 L1197.2 445.7 L1189.4 443.7 L1186.4 437.9 L1185.5 430.1" fill="#5ad000" opacity="0.8"/>
<rect x="1363.2" y="11.2" width="30" height="462.3" fill="url(#cbar)" stroke="#000" stroke-width="1.7"/>
<path d="M1356 11.2H1363M1356 84.4H1363M1356 127.6H1363M1356 170.9H1363M1356 214.1H1363M1356 257.3H1363M1356 300.5H1363M1356 343.8H1363M1356 387H1363M1356 430.2H1363M1356 473.5H1363" stroke="#000" stroke-width="1.9"/>
<text transform="translate(1288.2 30.2) scale(0.86 1.38)" class="cb" textLength="57.7" lengthAdjust="spacing">8.35</text>
<text transform="translate(1288.2 101) scale(0.86 1.38)" class="cb" textLength="57.7" lengthAdjust="spacing">7.04</text>
<text transform="translate(1288.2 144.2) scale(0.86 1.38)" class="cb" textLength="57.7" lengthAdjust="spacing">6.26</text>
<text transform="translate(1288.2 187.5) scale(0.86 1.38)" class="cb" textLength="57.7" lengthAdjust="spacing">5.48</text>
<text transform="translate(1288.2 230.7) scale(0.86 1.38)" class="cb" textLength="57.7" lengthAdjust="spacing">4.69</text>
<text transform="translate(1288.2 273.9) scale(0.86 1.38)" class="cb" textLength="57.7" lengthAdjust="spacing">3.91</text>
<text transform="translate(1288.2 317.1) scale(0.86 1.38)" class="cb" textLength="57.7" lengthAdjust="spacing">3.13</text>
<text transform="translate(1288.2 360.4) scale(0.86 1.38)" class="cb" textLength="57.7" lengthAdjust="spacing">2.35</text>
<text transform="translate(1288.2 403.6) scale(0.86 1.38)" class="cb" textLength="57.7" lengthAdjust="spacing">1.56</text>
<text transform="translate(1275.6 449) scale(0.86 1.38)" class="cb" textLength="68" lengthAdjust="spacing">0.782</text>
<text transform="translate(1336.2 487.3) scale(0.86 1.38)" class="cb">0</text>
<text x="1274.1" y="534.6" class="cap" text-anchor="middle">(c)</text>
</svg>
</body></html>
